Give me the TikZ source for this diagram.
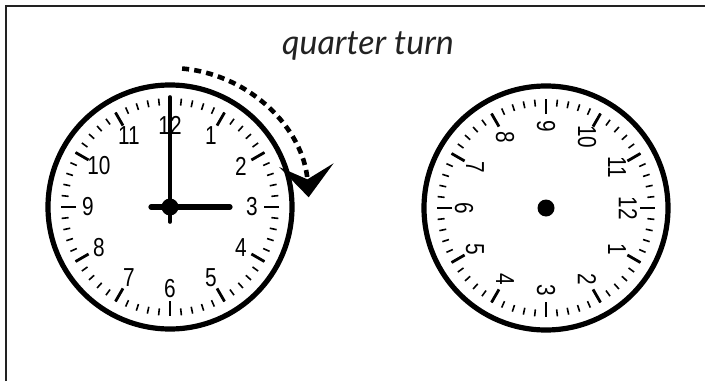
\documentclass[tikz,border=0pt]{standalone}
\usepackage{fontspec}
\usepackage{tikz}
\usetikzlibrary{arrows.meta,positioning}
\newfontfamily\titlefont{Lato}
\newfontfamily\digitfont[FakeStretch=0.8]{Liberation Sans}
\definecolor{inkgray}{RGB}{34,34,34}

\begin{document}
\begin{tikzpicture}[
  x=0.5pt,y=0.5pt,
  every node/.style={inner sep=0pt,outer sep=0pt},
  rim/.style={draw=black,line width=2.6pt,circle,minimum size=122pt},
  hub/.style={fill=black,circle,minimum size=8.5pt},
  num/.style={font=\digitfont\fontsize{13}{13}\selectfont},
  majortick/.style={line width=1.4pt},
  minortick/.style={line width=0.8pt},
  minhand/.style={line width=1.8pt,line cap=round},
  hrhand/.style={line width=2.6pt,line cap=round},
  turn/.style={line width=2.3pt,dash pattern=on 3.5pt off 2.6pt,
               -{Stealth[length=16pt,width=27pt,inset=7pt]}},
  frame/.style={draw=inkgray,line width=1.25pt},
]
\useasboundingbox (0,0) rectangle (705,381);

%% ── Frame and title ──────────────────────────────────────────────────────
\coordinate (fr0) at (6,0);
\coordinate (fr1) at (6,375);
\coordinate (fr2) at (705,375);
\draw[frame] (fr0) -- (fr1) -- (fr2);
\node[anchor=base,text=inkgray,font=\titlefont\itshape\fontsize{17}{18}\selectfont]
  (title) at (368,326) {quarter turn};

%% ── Left clock (3 o'clock) ───────────────────────────────────────────────
\begin{scope}[shift={(170,174)}]
  \node[rim] (rimL) at (0,0) {};
  \foreach \m in {0,...,59}
    \draw[minortick] (\m*6:102) -- (\m*6:109);
  \foreach \k in {1,...,12}{
    \draw[majortick] (90-\k*30:94) -- (90-\k*30:109);
    \node[num] (a\k) at (90-\k*30:82) {\k};
  }
  \node[hub] (hubL) at (0,0) {};
  \coordinate (minL0) at (0,-15);
  \coordinate (minL1) at (0,110);
  \coordinate (hrL0) at (-19,0);
  \coordinate (hrL1) at (60,0);
  \draw[minhand] (minL0) -- (minL1);
  \draw[hrhand] (hrL0) -- (hrL1);
  %% quarter-turn arrow
  \coordinate (turnS) at (85:139);
  \draw[turn] (turnS) arc[start angle=85,end angle=4,radius=139];
\end{scope}

%% ── Right clock (face turned a quarter) ──────────────────────────────────
\begin{scope}[shift={(546,173)}]
  \node[rim] (rimR) at (0,0) {};
  \foreach \m in {0,...,59}
    \draw[minortick] (\m*6:102) -- (\m*6:109);
  \foreach \k in {1,...,12}{
    \draw[majortick] (-\k*30:94) -- (-\k*30:109);
    \node[num,rotate=-90] (b\k) at (-\k*30:82) {\k};
  }
  \node[hub] (hubR) at (0,0) {};
\end{scope}

\end{tikzpicture}
\end{document}
